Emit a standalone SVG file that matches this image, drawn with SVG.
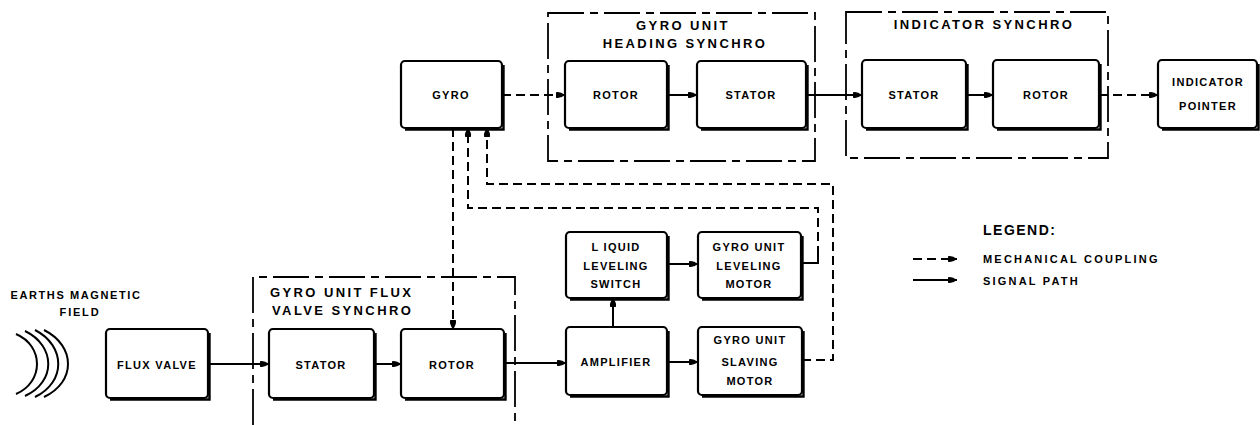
<svg xmlns="http://www.w3.org/2000/svg" width="1260" height="425" viewBox="0 0 1260 425">
<style>
  text { font-family: "Liberation Sans", Arial, sans-serif; font-weight: bold; fill: #000; text-anchor: middle; dominant-baseline: central; }
  .lbl { font-size: 11px; letter-spacing: 1.3px; }
  .ttl { font-size: 13px; letter-spacing: 2.4px; }
  .ttlL { font-size: 13px; letter-spacing: 2.4px; text-anchor: start; }
  .box { fill: #fff; stroke: #000; stroke-width: 2.2; }
  .sh { fill: none; stroke: #000; stroke-width: 2.4; }
  .grp { fill: none; stroke: #000; stroke-width: 1.8; stroke-dasharray: 36 6 8 6; }
  .sig { fill: none; stroke: #000; stroke-width: 2; }
  .mech { fill: none; stroke: #000; stroke-width: 2; stroke-dasharray: 9 5; }
  .arc { fill: none; stroke: #000; stroke-width: 2; }
</style>
<defs>
  <marker id="ah" markerWidth="10" markerHeight="8" refX="9" refY="4" orient="auto" markerUnits="userSpaceOnUse">
    <path d="M0,1.2 Q4,0 9,4 Q4,8 0,6.8 Z" fill="#000"/>
  </marker>
</defs>
<rect width="1260" height="425" fill="#fff"/>

<!-- group boxes -->
<g id="grp-heading">
  <rect class="grp" x="548" y="13" width="267" height="148"/>
  <text class="ttl" x="683" y="25">GYRO UNIT</text>
  <text class="ttl" x="685" y="43">HEADING SYNCHRO</text>
</g>
<g id="grp-indicator">
  <rect class="grp" x="846" y="12" width="262" height="146"/>
  <text class="ttl" x="984" y="24">INDICATOR SYNCHRO</text>
</g>
<g id="grp-flux">
  <path class="grp" d="M253,425 V277 H515 V425"/>
  <text class="ttlL" x="270" y="292">GYRO UNIT FLUX</text>
  <text class="ttlL" x="272" y="310">VALVE  SYNCHRO</text>
</g>

<!-- connectors -->
<g id="connectors">
  <path class="mech" d="M502,95 H565" marker-end="url(#ah)"/>
  <path class="sig" d="M667,95 H697" marker-end="url(#ah)"/>
  <path class="sig" d="M806,95 H862" marker-end="url(#ah)"/>
  <path class="sig" d="M966,95 H993" marker-end="url(#ah)"/>
  <path class="mech" d="M1099,95 H1158" marker-end="url(#ah)"/>
  <path class="mech" d="M453,128 V329" marker-end="url(#ah)"/>
  <path class="sig" d="M208,364 H269" marker-end="url(#ah)"/>
  <path class="sig" d="M374,364 H401" marker-end="url(#ah)"/>
  <path class="sig" d="M504,363 H566" marker-end="url(#ah)"/>
  <path class="sig" d="M667,362 H698" marker-end="url(#ah)"/>
  <path class="sig" d="M613,327 V298" marker-end="url(#ah)"/>
  <path class="sig" d="M667,264 H698" marker-end="url(#ah)"/>
  <path class="sig" d="M801,263 H818 V255"/>
  <path class="mech" d="M818,255 V208 H468 V128" marker-end="url(#ah)"/>
  <path class="mech" d="M802,360 H833 V184 H487 V128" marker-end="url(#ah)"/>
</g>

<!-- nodes -->
<g id="gyro">
  <rect class="box" x="401" y="61" width="101" height="67" rx="4"/>
  <path class="sh" d="M503.5,65 V129.5 H405"/>
  <text class="lbl" x="451" y="95">GYRO</text>
</g>
<g id="heading-rotor">
  <rect class="box" x="565" y="61" width="102" height="67" rx="4"/>
  <path class="sh" d="M668.5,65 V129.5 H569"/>
  <text class="lbl" x="616" y="95">ROTOR</text>
</g>
<g id="heading-stator">
  <rect class="box" x="697" y="61" width="109" height="67" rx="4"/>
  <path class="sh" d="M807.5,65 V129.5 H701"/>
  <text class="lbl" x="751" y="95">STATOR</text>
</g>
<g id="indicator-stator">
  <rect class="box" x="862" y="60" width="104" height="68" rx="4"/>
  <path class="sh" d="M967.5,64 V129.5 H866"/>
  <text class="lbl" x="914" y="95">STATOR</text>
</g>
<g id="indicator-rotor">
  <rect class="box" x="993" y="60" width="106" height="68" rx="4"/>
  <path class="sh" d="M1100.5,64 V129.5 H997"/>
  <text class="lbl" x="1046" y="95">ROTOR</text>
</g>
<g id="indicator-pointer">
  <rect class="box" x="1158" y="60" width="99" height="68" rx="4"/>
  <path class="sh" d="M1258.5,64 V129.5 H1162"/>
  <text class="lbl" x="1208" y="82">INDICATOR</text>
  <text class="lbl" x="1208" y="106">POINTER</text>
</g>
<g id="flux-valve">
  <rect class="box" x="106" y="329" width="102" height="69" rx="4"/>
  <path class="sh" d="M209.5,333 V399.5 H110"/>
  <text class="lbl" x="157" y="365">FLUX VALVE</text>
</g>
<g id="flux-stator">
  <rect class="box" x="269" y="329" width="105" height="69" rx="4"/>
  <path class="sh" d="M375.5,333 V399.5 H273"/>
  <text class="lbl" x="321" y="365">STATOR</text>
</g>
<g id="flux-rotor">
  <rect class="box" x="401" y="329" width="103" height="69" rx="4"/>
  <path class="sh" d="M505.5,333 V399.5 H405"/>
  <text class="lbl" x="452" y="365">ROTOR</text>
</g>
<g id="leveling-switch">
  <rect class="box" x="566" y="232" width="101" height="66" rx="4"/>
  <path class="sh" d="M668.5,236 V299.5 H570"/>
  <text class="lbl" x="616" y="247">L IQUID</text>
  <text class="lbl" x="616" y="266">LEVELING</text>
  <text class="lbl" x="616" y="284">SWITCH</text>
</g>
<g id="leveling-motor">
  <rect class="box" x="698" y="232" width="103" height="66" rx="4"/>
  <path class="sh" d="M802.5,236 V299.5 H702"/>
  <text class="lbl" x="749" y="247">GYRO UNIT</text>
  <text class="lbl" x="749" y="266">LEVELING</text>
  <text class="lbl" x="749" y="284">MOTOR</text>
</g>
<g id="amplifier">
  <rect class="box" x="566" y="327" width="101" height="68" rx="4"/>
  <path class="sh" d="M668.5,331 V396.5 H570"/>
  <text class="lbl" x="616" y="362">AMPLIFIER</text>
</g>
<g id="slaving-motor">
  <rect class="box" x="698" y="327" width="104" height="68" rx="4"/>
  <path class="sh" d="M803.5,331 V396.5 H702"/>
  <text class="lbl" x="750" y="340">GYRO UNIT</text>
  <text class="lbl" x="750" y="362">SLAVING</text>
  <text class="lbl" x="750" y="381">MOTOR</text>
</g>

<!-- earth's magnetic field -->
<g id="earth-field">
  <text class="lbl" x="76" y="295" style="letter-spacing:1.6px">EARTHS MAGNETIC</text>
  <text class="lbl" x="80" y="312" style="letter-spacing:1.8px">FIELD</text>
  <path class="arc" d="M16,334 C44,346 44,382 16,394"/>
  <path class="arc" d="M25,331 C56,346 56,382 25,396"/>
  <path class="arc" d="M35,330 C66,346 66,382 35,397"/>
  <path class="arc" d="M44,330 C76,346 76,382 44,397"/>
</g>

<!-- legend -->
<g id="legend">
  <text x="983" y="230" style="font-size:14px;letter-spacing:1.5px;text-anchor:start">LEGEND:</text>
  <path class="mech" d="M913,259 H957" marker-end="url(#ah)"/>
  <path class="sig" d="M913,280 H957" marker-end="url(#ah)"/>
  <text class="lbl" x="983" y="259" style="text-anchor:start;letter-spacing:2.2px">MECHANICAL  COUPLING</text>
  <text class="lbl" x="983" y="281" style="text-anchor:start;letter-spacing:2.2px">SIGNAL  PATH</text>
</g>
</svg>
